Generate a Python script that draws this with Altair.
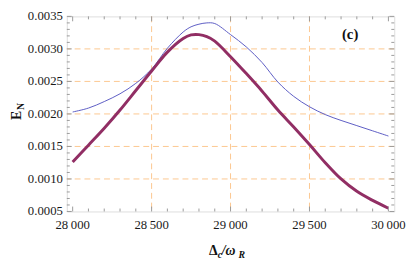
import altair as alt
import pandas as pd

# ---- data ----
delta = [28000, 28100, 28200, 28300, 28400, 28500, 28600, 28700, 28750, 28800, 28850,
         28900, 29000, 29100, 29200, 29300, 29400, 29500, 29600, 29700, 29800, 29900, 30000]
en_thin = [0.00203, 0.00209, 0.00219, 0.00231, 0.00247, 0.00269, 0.00301, 0.00326, 0.00334,
           0.00338, 0.00340, 0.00339, 0.00322, 0.00303, 0.00279, 0.00249, 0.00227, 0.00211,
           0.00199, 0.00190, 0.00182, 0.00174, 0.00166]
en_thick = [0.00126, 0.00152, 0.00178, 0.00206, 0.00236, 0.00266, 0.00295, 0.00316, 0.003215,
            0.00322, 0.00319, 0.00312, 0.00288, 0.00262, 0.00235, 0.00206, 0.00180, 0.00153,
            0.00125, 0.00100, 0.00081, 0.00067, 0.00055]

x_labels = [28000, 28500, 29000, 29500, 30000]
y_labels = [0.0005, 0.0010, 0.0015, 0.0020, 0.0025, 0.0030, 0.0035]
x_grid = [28500, 29000, 29500]
y_grid = [0.0010, 0.0015, 0.0020, 0.0025, 0.0030]
x_minor = [28100, 28200, 28300, 28400, 28600, 28700, 28800, 28900,
           29100, 29200, 29300, 29400, 29600, 29700, 29800, 29900]
y_minor = [0.0006, 0.0007, 0.0008, 0.0009, 0.0011, 0.0012, 0.0013, 0.0014,
           0.0016, 0.0017, 0.0018, 0.0019, 0.0021, 0.0022, 0.0023, 0.0024,
           0.0026, 0.0027, 0.0028, 0.0029, 0.0031, 0.0032, 0.0033, 0.0034]

W, H = 334, 199
FONT = "Liberation Serif"
GRID = "#FCC78E"
FRAME = "#9A9A9A"

xs = alt.Scale(domain=[27963, 30037], nice=False, zero=False)
ys = alt.Scale(domain=[0.0005, 0.0035], nice=False, zero=False)


def X(f="x"):
    return alt.X(f + ":Q", scale=xs, axis=None)


def Y(f="y"):
    return alt.Y(f + ":Q", scale=ys, axis=None)


lines = pd.DataFrame({"x": delta, "thin": en_thin, "thick": en_thick})
one = pd.DataFrame({"a": [0]})

layers = []
layers.append(alt.Chart(pd.DataFrame({"x": x_grid})).mark_rule(
    color=GRID, strokeDash=[6, 4], strokeWidth=1).encode(x=X()))
layers.append(alt.Chart(pd.DataFrame({"y": y_grid})).mark_rule(
    color=GRID, strokeDash=[6, 4], strokeWidth=1).encode(y=Y()))

layers.append(alt.Chart(lines).mark_line(color="#5B5BC4", strokeWidth=1,
                                         interpolate="catmull-rom").encode(x=X(), y=Y("thin")))
layers.append(alt.Chart(lines).mark_line(color="#912E64", strokeWidth=3,
                                         interpolate="catmull-rom").encode(x=X(), y=Y("thick")))

# inward frame ticks
for vals, ln in ((x_labels, 5), (x_minor, 3)):
    d = pd.DataFrame({"x": vals})
    layers.append(alt.Chart(d).mark_rule(color=FRAME, strokeWidth=1).encode(
        x=X(), y=alt.value(H), y2=alt.value(H - ln)))
    layers.append(alt.Chart(d).mark_rule(color=FRAME, strokeWidth=1).encode(
        x=X(), y=alt.value(0), y2=alt.value(ln)))
for vals, ln in ((y_labels, 5), (y_minor, 3)):
    d = pd.DataFrame({"y": vals})
    layers.append(alt.Chart(d).mark_rule(color=FRAME, strokeWidth=1).encode(
        y=Y(), x=alt.value(0), x2=alt.value(ln)))
    layers.append(alt.Chart(d).mark_rule(color=FRAME, strokeWidth=1).encode(
        y=Y(), x=alt.value(W), x2=alt.value(W - ln)))

# tick labels (serif text)
xl = pd.DataFrame({"x": x_labels,
                   "t": [f"{v:,}".replace(",", "\u2009") for v in x_labels]})
layers.append(alt.Chart(xl).mark_text(font=FONT, fontSize=13, color="#1a1a1a",
                                      align="center", baseline="middle").encode(
    x=X(), y=alt.value(H + 14), text="t:N"))
yl = pd.DataFrame({"y": y_labels, "t": [f"{v:.4f}" for v in y_labels]})
layers.append(alt.Chart(yl).mark_text(font=FONT, fontSize=13, color="#1a1a1a",
                                      align="right", baseline="middle").encode(
    y=Y(), x=alt.value(-4), text="t:N"))


def txt(s, x, y, size, **kw):
    return alt.Chart(one).mark_text(text=s, font=FONT, fontSize=size, color="#111",
                                    **kw).encode(x=alt.value(x), y=alt.value(y))


# panel label
layers.append(txt("(c)", 289, 18, 15, fontWeight="bold", align="center", baseline="middle"))

# x title  Δ_c/ω_R
bx = H + 44
layers.append(txt("\u0394", 145, bx, 14, fontWeight="bold", align="left", baseline="alphabetic"))
layers.append(txt("c", 154, bx + 3, 10, fontWeight="bold", fontStyle="italic", align="left",
                  baseline="alphabetic"))
layers.append(txt("/\u03c9", 158, bx, 14, fontWeight="bold", fontStyle="italic", align="left",
                  baseline="alphabetic"))
layers.append(txt("R", 175, bx + 3, 10, fontWeight="bold", fontStyle="italic", align="left",
                  baseline="alphabetic"))

# y title  E_N
layers.append(txt("E", -47, 101, 14, fontWeight="bold", angle=270, align="center",
                  baseline="alphabetic"))
layers.append(txt("N", -44, 92, 10, fontWeight="bold", angle=270, align="center",
                  baseline="alphabetic"))

chart = alt.layer(*layers).properties(
    width=W, height=H,
    autosize=alt.AutoSizeParams(type="none"),
    padding={"left": 60, "top": 6, "right": 13, "bottom": 50},
).configure_view(stroke=FRAME, strokeWidth=1).configure(background="white")

chart.save("out.html", embed_options={"renderer": "svg", "actions": False})
